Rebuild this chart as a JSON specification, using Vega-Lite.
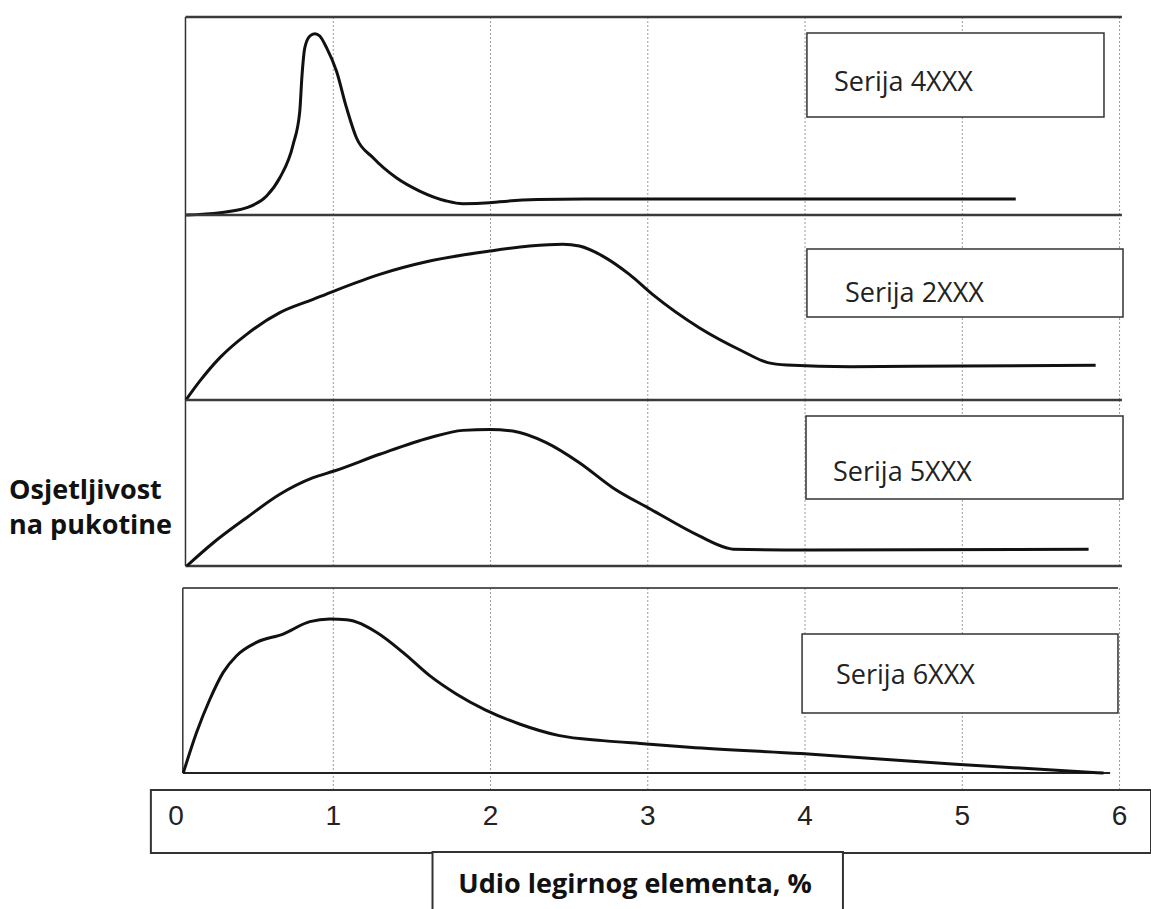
{
  "$schema": "https://vega.github.io/schema/vega-lite/v6.json",
  "padding": {"left": 9, "top": 15, "right": 0, "bottom": 0},
  "bounds": "flush",
  "spacing": 0,
  "background": "white",
  "config": {"view": {"stroke": null}, "concat": {"spacing": 0}},
  "datasets": {
    "curves": [
      {"s": "4XXX", "x": 0.065, "y": 0.0},
      {"s": "4XXX", "x": 0.28, "y": 0.012},
      {"s": "4XXX", "x": 0.45, "y": 0.037},
      {"s": "4XXX", "x": 0.576, "y": 0.096},
      {"s": "4XXX", "x": 0.66, "y": 0.188},
      {"s": "4XXX", "x": 0.745, "y": 0.357},
      {"s": "4XXX", "x": 0.787, "y": 0.525},
      {"s": "4XXX", "x": 0.8, "y": 0.693},
      {"s": "4XXX", "x": 0.819, "y": 0.845},
      {"s": "4XXX", "x": 0.851, "y": 0.904},
      {"s": "4XXX", "x": 0.883, "y": 0.916},
      {"s": "4XXX", "x": 0.914, "y": 0.904},
      {"s": "4XXX", "x": 0.957, "y": 0.845},
      {"s": "4XXX", "x": 1.02, "y": 0.727},
      {"s": "4XXX", "x": 1.084, "y": 0.542},
      {"s": "4XXX", "x": 1.147, "y": 0.39},
      {"s": "4XXX", "x": 1.253, "y": 0.289},
      {"s": "4XXX", "x": 1.401, "y": 0.188},
      {"s": "4XXX", "x": 1.549, "y": 0.121},
      {"s": "4XXX", "x": 1.719, "y": 0.071},
      {"s": "4XXX", "x": 1.824, "y": 0.057},
      {"s": "4XXX", "x": 1.994, "y": 0.062},
      {"s": "4XXX", "x": 2.057, "y": 0.067},
      {"s": "4XXX", "x": 2.3, "y": 0.078},
      {"s": "4XXX", "x": 2.6, "y": 0.081},
      {"s": "4XXX", "x": 3.5, "y": 0.081},
      {"s": "4XXX", "x": 4.5, "y": 0.081},
      {"s": "4XXX", "x": 5.34, "y": 0.081},
      {"s": "2XXX", "x": 0.063, "y": 0.0},
      {"s": "2XXX", "x": 0.152, "y": 0.103},
      {"s": "2XXX", "x": 0.279, "y": 0.229},
      {"s": "2XXX", "x": 0.449, "y": 0.355},
      {"s": "2XXX", "x": 0.66, "y": 0.472},
      {"s": "2XXX", "x": 0.872, "y": 0.544},
      {"s": "2XXX", "x": 1.005, "y": 0.589},
      {"s": "2XXX", "x": 1.295, "y": 0.679},
      {"s": "2XXX", "x": 1.613, "y": 0.751},
      {"s": "2XXX", "x": 1.994, "y": 0.805},
      {"s": "2XXX", "x": 2.248, "y": 0.832},
      {"s": "2XXX", "x": 2.459, "y": 0.842},
      {"s": "2XXX", "x": 2.565, "y": 0.832},
      {"s": "2XXX", "x": 2.713, "y": 0.778},
      {"s": "2XXX", "x": 2.883, "y": 0.679},
      {"s": "2XXX", "x": 3.03, "y": 0.571},
      {"s": "2XXX", "x": 3.327, "y": 0.391},
      {"s": "2XXX", "x": 3.6, "y": 0.265},
      {"s": "2XXX", "x": 3.763, "y": 0.202},
      {"s": "2XXX", "x": 3.884, "y": 0.189},
      {"s": "2XXX", "x": 4.289, "y": 0.18},
      {"s": "2XXX", "x": 5.0, "y": 0.184},
      {"s": "2XXX", "x": 5.848, "y": 0.188},
      {"s": "5XXX", "x": 0.068, "y": 0.0},
      {"s": "5XXX", "x": 0.237, "y": 0.14},
      {"s": "5XXX", "x": 0.449, "y": 0.291},
      {"s": "5XXX", "x": 0.66, "y": 0.432},
      {"s": "5XXX", "x": 0.872, "y": 0.532},
      {"s": "5XXX", "x": 1.005, "y": 0.572},
      {"s": "5XXX", "x": 1.295, "y": 0.673},
      {"s": "5XXX", "x": 1.613, "y": 0.773},
      {"s": "5XXX", "x": 1.824, "y": 0.817},
      {"s": "5XXX", "x": 1.994, "y": 0.823},
      {"s": "5XXX", "x": 2.141, "y": 0.813},
      {"s": "5XXX", "x": 2.354, "y": 0.743},
      {"s": "5XXX", "x": 2.565, "y": 0.622},
      {"s": "5XXX", "x": 2.777, "y": 0.472},
      {"s": "5XXX", "x": 3.018, "y": 0.342},
      {"s": "5XXX", "x": 3.327, "y": 0.181},
      {"s": "5XXX", "x": 3.498, "y": 0.11},
      {"s": "5XXX", "x": 3.543, "y": 0.101},
      {"s": "5XXX", "x": 4.01, "y": 0.096},
      {"s": "5XXX", "x": 5.803, "y": 0.101},
      {"s": "6XXX", "x": 0.046, "y": 0.0},
      {"s": "6XXX", "x": 0.131, "y": 0.22},
      {"s": "6XXX", "x": 0.216, "y": 0.4},
      {"s": "6XXX", "x": 0.3, "y": 0.544},
      {"s": "6XXX", "x": 0.385, "y": 0.634},
      {"s": "6XXX", "x": 0.512, "y": 0.706},
      {"s": "6XXX", "x": 0.681, "y": 0.751},
      {"s": "6XXX", "x": 0.851, "y": 0.818},
      {"s": "6XXX", "x": 0.978, "y": 0.832},
      {"s": "6XXX", "x": 1.084, "y": 0.829},
      {"s": "6XXX", "x": 1.274, "y": 0.761},
      {"s": "6XXX", "x": 1.443, "y": 0.652},
      {"s": "6XXX", "x": 1.613, "y": 0.526},
      {"s": "6XXX", "x": 1.782, "y": 0.427},
      {"s": "6XXX", "x": 1.966, "y": 0.341},
      {"s": "6XXX", "x": 2.184, "y": 0.265},
      {"s": "6XXX", "x": 2.438, "y": 0.202},
      {"s": "6XXX", "x": 2.713, "y": 0.175},
      {"s": "6XXX", "x": 2.992, "y": 0.157},
      {"s": "6XXX", "x": 3.263, "y": 0.139},
      {"s": "6XXX", "x": 3.975, "y": 0.105},
      {"s": "6XXX", "x": 4.959, "y": 0.047},
      {"s": "6XXX", "x": 5.898, "y": 0.0}
    ],
    "grid": [{"x": 1}, {"x": 2}, {"x": 3}, {"x": 4}, {"x": 5}, {"x": 6}],
    "ticks": [{"v": 0}, {"v": 1}, {"v": 2}, {"v": 3}, {"v": 4}, {"v": 5}, {"v": 6}],
    "one": [{}]
  },
  "vconcat": [
    {
      "width": 1001, "height": 198,
      "layer": [
        {"data": {"name": "grid"}, "mark": {"type": "rule", "color": "#9a9a9a", "strokeWidth": 1, "strokeDash": [2, 2]},
         "encoding": {"x": {"field": "x", "type": "quantitative", "scale": {"domain": [-0.1656, 6.2], "nice": false, "zero": false}, "axis": null},
                      "y": {"datum": 0, "type": "quantitative", "scale": {"domain": [0, 1], "nice": false, "zero": false}, "axis": null}, "y2": {"datum": 1}}},
        {"data": {"name": "one"}, "mark": {"type": "rect", "fill": "white", "stroke": "#333", "strokeWidth": 1.5},
         "encoding": {"x": {"datum": 4.012, "type": "quantitative", "axis": null}, "x2": {"datum": 5.901}, "y": {"datum": 0.919, "type": "quantitative", "axis": null}, "y2": {"datum": 0.495}}},
        {"data": {"name": "one"}, "mark": {"type": "text", "text": "Serija 4XXX", "font": "Open Sans", "fontSize": 27, "color": "#222", "align": "left", "baseline": "alphabetic"},
         "encoding": {"x": {"datum": 4.184, "type": "quantitative", "axis": null}, "y": {"datum": 0.626, "type": "quantitative", "axis": null}}},
        {"data": {"name": "one"}, "mark": {"type": "rule", "color": "#3a3a3a", "strokeWidth": 2.5},
         "encoding": {"x": {"datum": 0.06, "type": "quantitative", "axis": null}, "x2": {"datum": 6.015}, "y": {"datum": 1, "type": "quantitative", "axis": null}}},
        {"data": {"name": "one"}, "mark": {"type": "rule", "color": "#333", "strokeWidth": 1.5},
         "encoding": {"x": {"datum": 0.06, "type": "quantitative", "axis": null}, "y": {"datum": 0, "type": "quantitative", "axis": null}, "y2": {"datum": 1}}},
        {"data": {"name": "curves"}, "transform": [{"filter": "datum.s === '4XXX'"}],
         "mark": {"type": "line", "color": "#111", "strokeWidth": 3, "interpolate": "monotone"},
         "encoding": {"x": {"field": "x", "type": "quantitative", "axis": null}, "y": {"field": "y", "type": "quantitative", "axis": null}}}
      ]
    },
    {
      "width": 1001, "height": 185,
      "layer": [
        {"data": {"name": "grid"}, "mark": {"type": "rule", "color": "#9a9a9a", "strokeWidth": 1, "strokeDash": [2, 2]},
         "encoding": {"x": {"field": "x", "type": "quantitative", "scale": {"domain": [-0.1656, 6.2], "nice": false, "zero": false}, "axis": null},
                      "y": {"datum": 0, "type": "quantitative", "scale": {"domain": [0, 1], "nice": false, "zero": false}, "axis": null}, "y2": {"datum": 1}}},
        {"data": {"name": "one"}, "mark": {"type": "rect", "fill": "white", "stroke": "#333", "strokeWidth": 1.5},
         "encoding": {"x": {"datum": 4.012, "type": "quantitative", "axis": null}, "x2": {"datum": 6.022}, "y": {"datum": 0.816, "type": "quantitative", "axis": null}, "y2": {"datum": 0.449}}},
        {"data": {"name": "one"}, "mark": {"type": "text", "text": "Serija 2XXX", "font": "Open Sans", "fontSize": 27, "color": "#222", "align": "left", "baseline": "alphabetic"},
         "encoding": {"x": {"datum": 4.254, "type": "quantitative", "axis": null}, "y": {"datum": 0.53, "type": "quantitative", "axis": null}}},
        {"data": {"name": "one"}, "mark": {"type": "rule", "color": "#3a3a3a", "strokeWidth": 2.5},
         "encoding": {"x": {"datum": 0.06, "type": "quantitative", "axis": null}, "x2": {"datum": 6.015}, "y": {"datum": 1, "type": "quantitative", "axis": null}}},
        {"data": {"name": "one"}, "mark": {"type": "rule", "color": "#333", "strokeWidth": 1.5},
         "encoding": {"x": {"datum": 0.06, "type": "quantitative", "axis": null}, "y": {"datum": 0, "type": "quantitative", "axis": null}, "y2": {"datum": 1}}},
        {"data": {"name": "curves"}, "transform": [{"filter": "datum.s === '2XXX'"}],
         "mark": {"type": "line", "color": "#111", "strokeWidth": 3, "interpolate": "monotone"},
         "encoding": {"x": {"field": "x", "type": "quantitative", "axis": null}, "y": {"field": "y", "type": "quantitative", "axis": null}}}
      ]
    },
    {
      "width": 1001, "height": 166,
      "layer": [
        {"data": {"name": "grid"}, "mark": {"type": "rule", "color": "#9a9a9a", "strokeWidth": 1, "strokeDash": [2, 2]},
         "encoding": {"x": {"field": "x", "type": "quantitative", "scale": {"domain": [-0.1656, 6.2], "nice": false, "zero": false}, "axis": null},
                      "y": {"datum": 0, "type": "quantitative", "scale": {"domain": [0, 1], "nice": false, "zero": false}, "axis": null}, "y2": {"datum": 1}}},
        {"data": {"name": "one"}, "mark": {"type": "rect", "fill": "white", "stroke": "#333", "strokeWidth": 1.5},
         "encoding": {"x": {"datum": 4.006, "type": "quantitative", "axis": null}, "x2": {"datum": 6.022}, "y": {"datum": 0.904, "type": "quantitative", "axis": null}, "y2": {"datum": 0.404}}},
        {"data": {"name": "one"}, "mark": {"type": "text", "text": "Serija 5XXX", "font": "Open Sans", "fontSize": 27, "color": "#222", "align": "left", "baseline": "alphabetic"},
         "encoding": {"x": {"datum": 4.178, "type": "quantitative", "axis": null}, "y": {"datum": 0.512, "type": "quantitative", "axis": null}}},
        {"data": {"name": "one"}, "mark": {"type": "text", "text": ["Osjetljivost", "na pukotine"], "font": "Open Sans", "fontSize": 27, "fontWeight": "bold", "color": "#111", "align": "left", "baseline": "alphabetic", "lineHeight": 35},
         "encoding": {"x": {"datum": -1.062, "type": "quantitative", "axis": null}, "y": {"datum": 0.404, "type": "quantitative", "axis": null}}},
        {"data": {"name": "one"}, "mark": {"type": "rule", "color": "#3a3a3a", "strokeWidth": 2.5},
         "encoding": {"x": {"datum": 0.06, "type": "quantitative", "axis": null}, "x2": {"datum": 6.015}, "y": {"datum": 1, "type": "quantitative", "axis": null}}},
        {"data": {"name": "one"}, "mark": {"type": "rule", "color": "#3a3a3a", "strokeWidth": 2.5},
         "encoding": {"x": {"datum": 0.06, "type": "quantitative", "axis": null}, "x2": {"datum": 6.015}, "y": {"datum": 0, "type": "quantitative", "axis": null}}},
        {"data": {"name": "one"}, "mark": {"type": "rule", "color": "#333", "strokeWidth": 1.5},
         "encoding": {"x": {"datum": 0.06, "type": "quantitative", "axis": null}, "y": {"datum": 0, "type": "quantitative", "axis": null}, "y2": {"datum": 1}}},
        {"data": {"name": "curves"}, "transform": [{"filter": "datum.s === '5XXX'"}],
         "mark": {"type": "line", "color": "#111", "strokeWidth": 3, "interpolate": "monotone"},
         "encoding": {"x": {"field": "x", "type": "quantitative", "axis": null}, "y": {"field": "y", "type": "quantitative", "axis": null}}}
      ]
    },
    {
      "width": 1001, "height": 224,
      "layer": [
        {"data": {"name": "grid"}, "mark": {"type": "rule", "color": "#9a9a9a", "strokeWidth": 1, "strokeDash": [2, 2]},
         "encoding": {"x": {"field": "x", "type": "quantitative", "scale": {"domain": [-0.1656, 6.2], "nice": false, "zero": false}, "axis": null},
                      "y": {"datum": -0.0919, "type": "quantitative", "scale": {"domain": [-0.0919, 1.1189], "nice": false, "zero": false}, "axis": null}, "y2": {"datum": 1}}},
        {"data": {"name": "one"}, "mark": {"type": "rect", "fill": "white", "stroke": "#333", "strokeWidth": 1.5},
         "encoding": {"x": {"datum": 3.981, "type": "quantitative", "axis": null}, "x2": {"datum": 5.99}, "y": {"datum": 0.751, "type": "quantitative", "axis": null}, "y2": {"datum": 0.324}}},
        {"data": {"name": "one"}, "mark": {"type": "text", "text": "Serija 6XXX", "font": "Open Sans", "fontSize": 27, "color": "#222", "align": "left", "baseline": "alphabetic"},
         "encoding": {"x": {"datum": 4.197, "type": "quantitative", "axis": null}, "y": {"datum": 0.479, "type": "quantitative", "axis": null}}},
        {"data": {"name": "one"}, "mark": {"type": "rule", "color": "#222", "strokeWidth": 1.5},
         "encoding": {"x": {"datum": 0.043, "type": "quantitative", "axis": null}, "x2": {"datum": 5.99}, "y": {"datum": 1, "type": "quantitative", "axis": null}}},
        {"data": {"name": "one"}, "mark": {"type": "rule", "color": "#222", "strokeWidth": 2},
         "encoding": {"x": {"datum": 0.043, "type": "quantitative", "axis": null}, "x2": {"datum": 5.94}, "y": {"datum": 0, "type": "quantitative", "axis": null}}},
        {"data": {"name": "one"}, "mark": {"type": "rule", "color": "#333", "strokeWidth": 1.5},
         "encoding": {"x": {"datum": 0.043, "type": "quantitative", "axis": null}, "y": {"datum": 0, "type": "quantitative", "axis": null}, "y2": {"datum": 1}}},
        {"data": {"name": "curves"}, "transform": [{"filter": "datum.s === '6XXX'"}],
         "mark": {"type": "line", "color": "#111", "strokeWidth": 3, "interpolate": "monotone"},
         "encoding": {"x": {"field": "x", "type": "quantitative", "axis": null}, "y": {"field": "y", "type": "quantitative", "axis": null}}}
      ]
    },
    {
      "width": 1001, "height": 120,
      "layer": [
        {"data": {"name": "one"}, "mark": {"type": "rect", "fill": "white", "stroke": "#333", "strokeWidth": 2},
         "encoding": {"x": {"datum": -0.16, "type": "quantitative", "scale": {"domain": [-0.1656, 6.2], "nice": false, "zero": false}, "axis": null}, "x2": {"datum": 6.2},
                      "y": {"datum": 0, "type": "quantitative", "scale": {"domain": [0, 120], "nice": false, "zero": false, "reverse": true}, "axis": null}, "y2": {"datum": 63}}},
        {"data": {"name": "ticks"}, "mark": {"type": "text", "font": "Liberation Sans", "fontSize": 28, "color": "#222", "align": "center", "baseline": "alphabetic"},
         "encoding": {"x": {"field": "v", "type": "quantitative", "axis": null}, "y": {"datum": 35, "type": "quantitative", "axis": null}, "text": {"field": "v", "type": "quantitative", "format": "d"}}},
        {"data": {"name": "one"}, "mark": {"type": "rect", "fill": "white", "stroke": "#333", "strokeWidth": 2, "clip": true},
         "encoding": {"x": {"datum": 1.631, "type": "quantitative", "axis": null}, "x2": {"datum": 4.241},
                      "y": {"datum": 62, "type": "quantitative", "axis": null}, "y2": {"datum": 135}}},
        {"data": {"name": "one"}, "mark": {"type": "text", "text": "Udio legirnog elementa, %", "font": "Open Sans", "fontSize": 27, "fontWeight": "bold", "color": "#111", "align": "center", "baseline": "alphabetic"},
         "encoding": {"x": {"datum": 2.919, "type": "quantitative", "axis": null}, "y": {"datum": 102.7, "type": "quantitative", "axis": null}}}
      ]
    }
  ]
}
